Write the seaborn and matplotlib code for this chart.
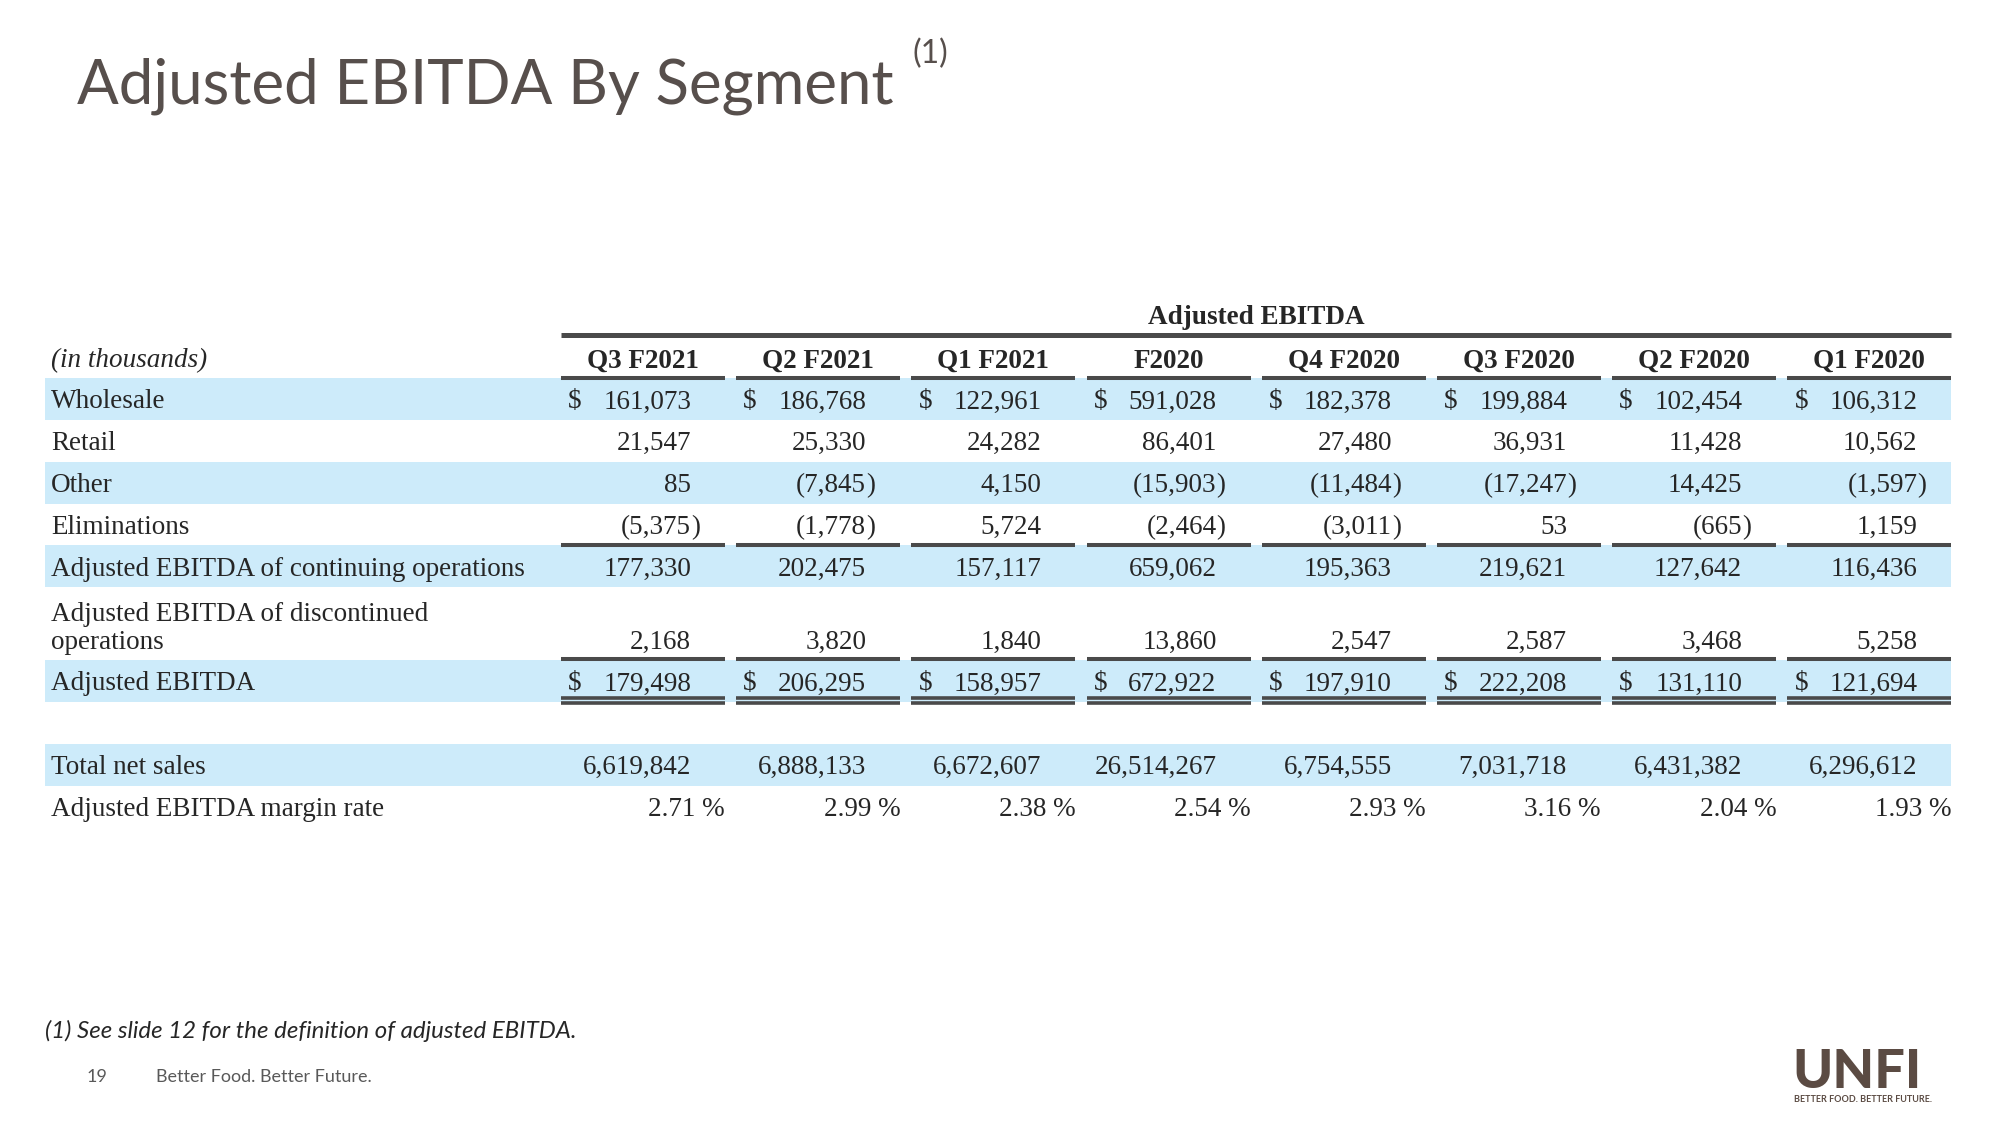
import matplotlib
matplotlib.use("Agg")
import matplotlib.pyplot as plt
import seaborn as sns

# Datos de la tabla (en miles)
columns = ["Q3 F2021", "Q2 F2021", "Q1 F2021", "F2020", "Q4 F2020", "Q3 F2020", "Q2 F2020", "Q1 F2020"]
wholesale = [161073, 186768, 122961, 591028, 182378, 199884, 102454, 106312]
retail = [21547, 25330, 24282, 86401, 27480, 36931, 11428, 10562]
other = [85, -7845, 4150, -15903, -11484, -17247, 14425, -1597]
eliminations = [-5375, -1778, 5724, -2464, -3011, 53, -665, 1159]
continuing = [177330, 202475, 157117, 659062, 195363, 219621, 127642, 116436]
discontinued = [2168, 3820, 1840, 13860, 2547, 2587, 3468, 5258]
adj_ebitda = [179498, 206295, 158957, 672922, 197910, 222208, 131110, 121694]
net_sales = [6619842, 6888133, 6672607, 26514267, 6754555, 7031718, 6431382, 6296612]
margin_rate = [2.71, 2.99, 2.38, 2.54, 2.93, 3.16, 2.04, 1.93]

sns.set_theme(style="white")
plt.rcParams['font.family'] = ['Liberation Serif', 'DejaVu Sans']

BAND = '#cdebfa'
LINE = '#4a4a4a'
TITLE_C = '#574f4c'
SERIF = 'Liberation Serif'
SANS = 'Lato'

fig = plt.figure(figsize=(20, 11.25), dpi=100)
ax = fig.add_axes([0, 0, 1, 1])
ax.set_xlim(0, 2000)
ax.set_ylim(1125, 0)
ax.axis('off')

# geometria de columnas
col_left0, col_step, col_w = 561, 175.2, 164
num_right = 130
lefts = [col_left0 + col_step * i for i in range(len(columns))]
table_left, table_right = 45, lefts[-1] + col_w
fs = 19.5
dy = 3  # ajuste vertical del texto dentro de la fila


def fmt_num(ax, x_right, y, v):
    if v < 0:
        ax.text(x_right, y + dy, f"({abs(v):,}", ha='right', va='center', fontsize=fs, family=SERIF)
        ax.text(x_right, y + dy, ")", ha='left', va='center', fontsize=fs, family=SERIF)
    else:
        ax.text(x_right, y + dy, f"{v:,}", ha='right', va='center', fontsize=fs, family=SERIF)


def band(y):
    ax.fill_between([table_left, table_right], y - 21, y + 21, color=BAND, lw=0, zorder=0)


def col_lines(y, lw=2.9):
    for l in lefts:
        ax.plot([l, l + col_w], [y, y], color=LINE, lw=lw, solid_capstyle='butt')


# filas: etiqueta, valores, y, banda, simbolo $
pitch = 41.8
y0 = 399
rows = [
    ("Wholesale", wholesale, y0, True, True),
    ("Retail", retail, y0 + pitch, False, False),
    ("Other", other, y0 + 2 * pitch, True, False),
    ("Eliminations", eliminations, y0 + 3 * pitch, False, False),
    ("Adjusted EBITDA of continuing operations", continuing, y0 + 4 * pitch, True, False),
    (None, discontinued, y0 + 4 * pitch + 73, False, False),
    ("Adjusted EBITDA", adj_ebitda, y0 + 5 * pitch + 73, True, True),
    ("Total net sales", net_sales, y0 + 7 * pitch + 73, True, False),
]

for label, vals, y, banded, dollar in rows:
    if banded:
        band(y)
    if label:
        ax.text(51, y + dy, label, ha='left', va='center', fontsize=fs, family=SERIF)
    for l, v in zip(lefts, vals):
        fmt_num(ax, l + num_right, y, v)
        if dollar:
            ax.text(l + 7, y + dy, "$", ha='left', va='center', fontsize=fs, family=SERIF)

# etiqueta de dos lineas
y_disc = rows[5][2] + dy
ax.text(51, y_disc - 28, "Adjusted EBITDA of discontinued", ha='left', va='center', fontsize=fs, family=SERIF)
ax.text(51, y_disc, "operations", ha='left', va='center', fontsize=fs, family=SERIF)

# margen
y_m = y0 + 8 * pitch + 73 + dy
ax.text(51, y_m, "Adjusted EBITDA margin rate", ha='left', va='center', fontsize=fs, family=SERIF)
for l, v in zip(lefts, margin_rate):
    ax.text(l + col_w, y_m, f"{v:.2f} %", ha='right', va='center', fontsize=fs, family=SERIF)

# encabezados
ax.text((lefts[0] + table_right) / 2, 318, "Adjusted EBITDA", ha='center', va='center',
        fontsize=fs, fontweight='bold', family=SERIF)
ax.plot([lefts[0], table_right], [335, 335], color=LINE, lw=3.6, solid_capstyle='butt')
ax.text(51, 361, "(in thousands)", ha='left', va='center', fontsize=fs, style='italic', family=SERIF)
for l, c in zip(lefts, columns):
    ax.text(l + col_w / 2, 361, c, ha='center', va='center', fontsize=fs, fontweight='bold', family=SERIF)

col_lines(378)
col_lines(rows[4][2] - 21)
col_lines(rows[6][2] - 22)
col_lines(rows[6][2] + 17, lw=2.6)
col_lines(rows[6][2] + 22, lw=2.6)

# titulo y pie
ax.text(77, 86, "Adjusted EBITDA By Segment", ha='left', va='center', fontsize=44.5,
        color=TITLE_C, family=SANS)
ax.text(912, 54, "(1)", ha='left', va='center', fontsize=23, color=TITLE_C, family=SANS)
ax.text(45, 1031, "(1) See slide 12 for the definition of adjusted EBITDA.", ha='left', va='center',
        fontsize=17.3, style='italic', family=SANS)
ax.text(87, 1077, "19", ha='left', va='center', fontsize=13, color='#595959', family=SANS)
ax.text(156, 1077, "Better Food. Better Future.", ha='left', va='center', fontsize=13,
        color='#595959', family=SANS)

# logo
ax.text(1792, 1072, "UNFI", ha='left', va='center', fontsize=39, fontweight='black',
        color='#5b4b43', family=SANS)
ax.text(1794, 1100, "BETTER FOOD. BETTER FUTURE.", ha='left', va='center', fontsize=6.5,
        fontweight='bold', color='#5b4b43', family=SANS)

fig.savefig('out.png', dpi=100)
plt.close(fig)
